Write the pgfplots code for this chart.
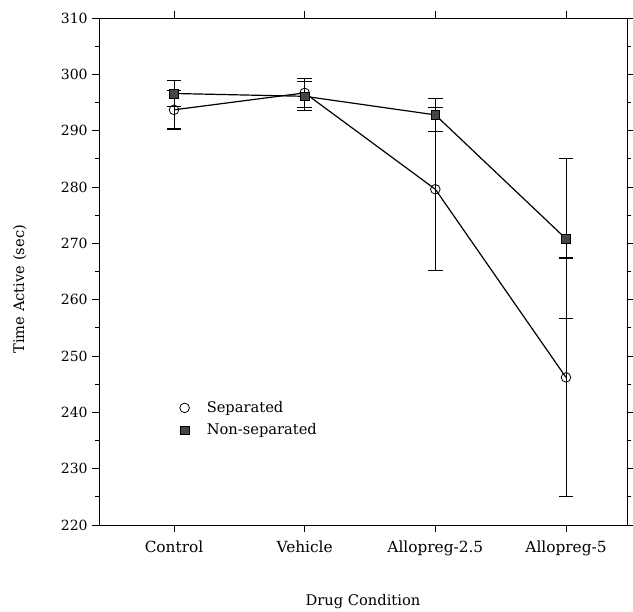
\documentclass[border=0pt]{standalone}
\usepackage{fontspec}
\setmainfont{DejaVu Serif}
\usepackage{pgfplots}
\pgfplotsset{compat=1.18}
\definecolor{sqfill}{RGB}{70,70,70}

\begin{document}
\begin{tikzpicture}
\begin{axis}[
    name=ax,
    scale only axis,
    width=396pt, height=380.25pt,
    xmin=-0.574, xmax=3.467,
    ymin=220, ymax=310,
    xtick={0,1,2,3},
    xticklabels={Control,Vehicle,Allopreg-2.5,Allopreg-5},
    ytick={220,230,...,310},
    minor y tick num=1,
    tick align=outside,
    major tick length=5pt, minor tick length=3pt,
    tick style={black, line width=0.5pt},
    axis line style={line width=0.7pt},
    /pgf/number format/assume math mode=true,
    tick label style={font=\fontsize{10.5}{12}\selectfont},
    xticklabel style={font=\fontsize{11.5}{13}\selectfont, yshift=-3pt},
    xlabel={Drug Condition},
    ylabel={Time Active (sec)},
    label style={font=\fontsize{11}{13}\selectfont},
    xlabel style={at={(axis description cs:0.5,-0.152)}, anchor=center},
    ylabel style={at={(axis description cs:-0.15,0.465)}, anchor=center},
    legend style={draw=none, fill=none, font=\fontsize{11}{13}\selectfont,
      at={(axis description cs:0.145,0.255)}, anchor=north west,
      row sep=3pt, legend cell align=left,
      /tikz/every odd column/.append style={column sep=11pt}},
    legend image code/.code={\draw[#1] plot[only marks] coordinates {(0.15cm,0cm)};},
    error bars/error bar style={black, line width=0.5pt},
    error bars/error mark options={rotate=90, mark size=5.5pt, line width=0.8pt},
]
% Separated
\addplot[black, line width=0.9pt, mark=o, mark size=3.6pt,
    mark options={fill=white, line width=0.6pt},
    error bars/.cd, y dir=both, y explicit]
  coordinates {
    (0,293.7) +- (0,3.4)
    (1,296.7) +- (0,2.6)
    (2,279.6) +- (0,14.5)
    (3,246.2) +- (0,21.2)
  };
\addlegendentry{Separated}
% Non-separated
\addplot[black, line width=0.9pt, mark=square*, mark size=3.3pt,
    mark options={fill=sqfill, draw=black, line width=0.5pt},
    error bars/.cd, y dir=both, y explicit]
  coordinates {
    (0,296.6) +- (0,2.3)
    (1,296.1) +- (0,2.6)
    (2,292.8) +- (0,2.9)
    (3,270.8) +- (0,14.2)
  };
\addlegendentry{Non-separated}
\end{axis}
\pgfresetboundingbox
\path[use as bounding box] ([xshift=-74.25pt,yshift=-65.25pt]ax.south west)
  rectangle ([xshift=4.5pt,yshift=13.5pt]ax.north east);
\end{tikzpicture}
\end{document}
